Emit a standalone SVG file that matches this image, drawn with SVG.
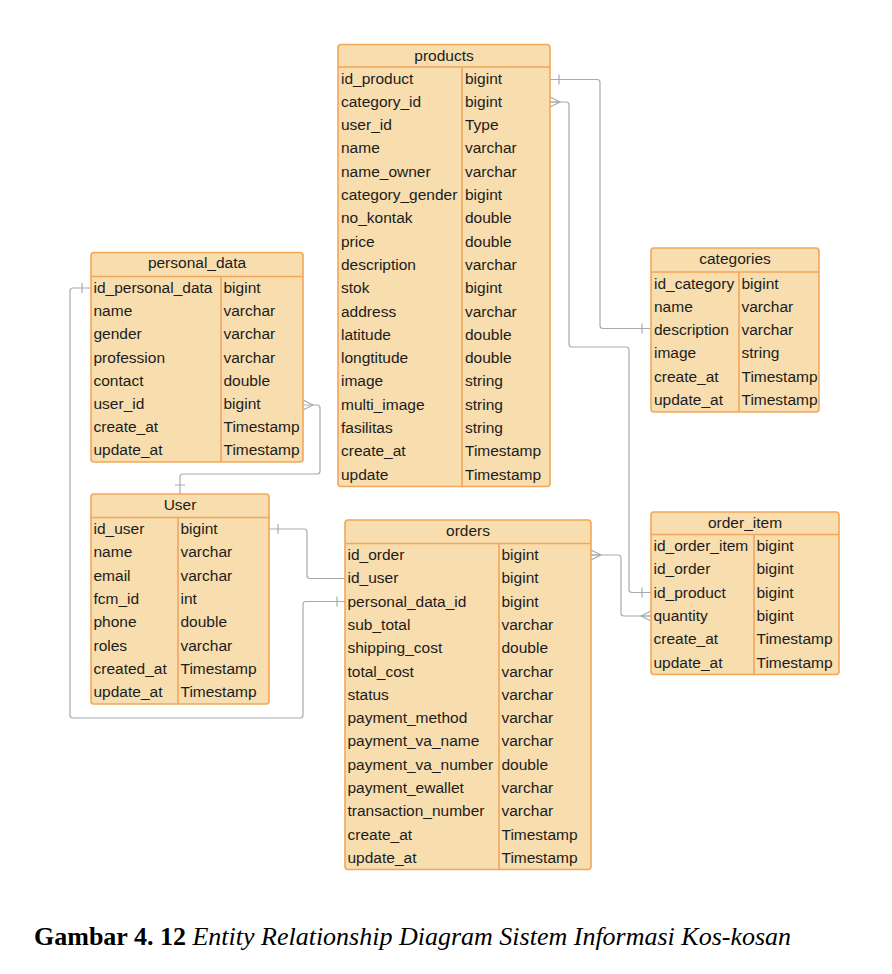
<svg xmlns="http://www.w3.org/2000/svg" width="892" height="974" viewBox="0 0 892 974">
<style>
.box{fill:#f8ddae;stroke:#f2a65c;stroke-width:1.6}
.ln{stroke:#f2a65c;stroke-width:1.6;fill:none}
.t{font-family:"Liberation Sans",Arial,sans-serif;font-size:15.5px;fill:#1c1c1c}
.h{text-anchor:middle}
.c{fill:none;stroke:#a6abb2;stroke-width:1.2;stroke-linejoin:round}
.cap{font-family:"Liberation Serif","Times New Roman",serif;font-size:26px;fill:#000}
</style>
<rect width="892" height="974" fill="#fff"/>
<g id="connectors">
  <path class="c" d="M550,79.5 H597 Q600,79.5 600,82.5 V325.5 Q600,328.5 603,328.5 H651"/>
  <path class="c" d="M559,74.5 V84.5 M642,323.5 V333.5"/>
  <path class="c" d="M550,102 H566 Q569,102 569,105 V344 Q569,347 572,347 H626 Q629,347 629,350 V589.5 Q629,592.5 632,592.5 H651"/>
  <path class="c" d="M550,97 L560,102 L550,107 M550,102 H560 M642,587.5 V597.5"/>
  <path class="c" d="M303,405 H317 Q320,405 320,408 V471 Q320,474 317,474 H183 Q180,474 180,477 V494"/>
  <path class="c" d="M303,400 L313,405 L303,410 M175,485 H185"/>
  <path class="c" d="M91,288 H73 Q70,288 70,291 V715 Q70,718 73,718 H300 Q303,718 303,715 V604.5 Q303,601.5 306,601.5 H345"/>
  <path class="c" d="M82,283 V293 M337,596.5 V606.5"/>
  <path class="c" d="M269,529 H304 Q307,529 307,532 V575.5 Q307,578.5 310,578.5 H345"/>
  <path class="c" d="M278,524 V534"/>
  <path class="c" d="M591,555 H618 Q621,555 621,558 V613 Q621,616 624,616 H651"/>
  <path class="c" d="M591,550 L601,555 L591,560 M591,555 H601 M651,611 L641,616 L651,621 M641,616 H651"/>
</g>
<g id="products">
  <rect class="box" x="338" y="44.5" width="212" height="442" rx="3"/>
  <path class="ln" d="M338,67 H550 M462,67 V486.5"/>
  <text class="t h" x="444" y="60.5">products</text>
  <g class="t">
    <text x="341" y="83.5">id_product</text><text x="465" y="83.5">bigint</text>
    <text x="341" y="106.8">category_id</text><text x="465" y="106.8">bigint</text>
    <text x="341" y="130.1">user_id</text><text x="465" y="130.1">Type</text>
    <text x="341" y="153.4">name</text><text x="465" y="153.4">varchar</text>
    <text x="341" y="176.7">name_owner</text><text x="465" y="176.7">varchar</text>
    <text x="341" y="200">category_gender</text><text x="465" y="200">bigint</text>
    <text x="341" y="223.3">no_kontak</text><text x="465" y="223.3">double</text>
    <text x="341" y="246.6">price</text><text x="465" y="246.6">double</text>
    <text x="341" y="269.9">description</text><text x="465" y="269.9">varchar</text>
    <text x="341" y="293.2">stok</text><text x="465" y="293.2">bigint</text>
    <text x="341" y="316.5">address</text><text x="465" y="316.5">varchar</text>
    <text x="341" y="339.8">latitude</text><text x="465" y="339.8">double</text>
    <text x="341" y="363.1">longtitude</text><text x="465" y="363.1">double</text>
    <text x="341" y="386.4">image</text><text x="465" y="386.4">string</text>
    <text x="341" y="409.7">multi_image</text><text x="465" y="409.7">string</text>
    <text x="341" y="433">fasilitas</text><text x="465" y="433">string</text>
    <text x="341" y="456.3">create_at</text><text x="465" y="456.3">Timestamp</text>
    <text x="341" y="479.6">update</text><text x="465" y="479.6">Timestamp</text>
  </g>
</g>
<g id="categories">
  <rect class="box" x="651" y="248" width="168" height="164" rx="3"/>
  <path class="ln" d="M651,272 H819 M739,272 V412"/>
  <text class="t h" x="735" y="263.5">categories</text>
  <g class="t">
    <text x="654" y="288.5">id_category</text><text x="741.5" y="288.5">bigint</text>
    <text x="654" y="311.8">name</text><text x="741.5" y="311.8">varchar</text>
    <text x="654" y="335.1">description</text><text x="741.5" y="335.1">varchar</text>
    <text x="654" y="358.4">image</text><text x="741.5" y="358.4">string</text>
    <text x="654" y="381.7">create_at</text><text x="741.5" y="381.7">Timestamp</text>
    <text x="654" y="405">update_at</text><text x="741.5" y="405">Timestamp</text>
  </g>
</g>
<g id="personal_data">
  <rect class="box" x="91" y="252.5" width="212" height="209.5" rx="3"/>
  <path class="ln" d="M91,276.5 H303 M221,276.5 V462"/>
  <text class="t h" x="197" y="268">personal_data</text>
  <g class="t">
    <text x="93.5" y="293">id_personal_data</text><text x="223.5" y="293">bigint</text>
    <text x="93.5" y="316.2">name</text><text x="223.5" y="316.2">varchar</text>
    <text x="93.5" y="339.4">gender</text><text x="223.5" y="339.4">varchar</text>
    <text x="93.5" y="362.6">profession</text><text x="223.5" y="362.6">varchar</text>
    <text x="93.5" y="385.8">contact</text><text x="223.5" y="385.8">double</text>
    <text x="93.5" y="409">user_id</text><text x="223.5" y="409">bigint</text>
    <text x="93.5" y="432.2">create_at</text><text x="223.5" y="432.2">Timestamp</text>
    <text x="93.5" y="455.4">update_at</text><text x="223.5" y="455.4">Timestamp</text>
  </g>
</g>
<g id="User">
  <rect class="box" x="91" y="494" width="178" height="210" rx="3"/>
  <path class="ln" d="M91,517.5 H269 M178,517.5 V704"/>
  <text class="t h" x="180" y="509.5">User</text>
  <g class="t">
    <text x="93.5" y="534">id_user</text><text x="180.5" y="534">bigint</text>
    <text x="93.5" y="557.3">name</text><text x="180.5" y="557.3">varchar</text>
    <text x="93.5" y="580.6">email</text><text x="180.5" y="580.6">varchar</text>
    <text x="93.5" y="603.9">fcm_id</text><text x="180.5" y="603.9">int</text>
    <text x="93.5" y="627.2">phone</text><text x="180.5" y="627.2">double</text>
    <text x="93.5" y="650.5">roles</text><text x="180.5" y="650.5">varchar</text>
    <text x="93.5" y="673.8">created_at</text><text x="180.5" y="673.8">Timestamp</text>
    <text x="93.5" y="697.1">update_at</text><text x="180.5" y="697.1">Timestamp</text>
  </g>
</g>
<g id="orders">
  <rect class="box" x="345" y="520" width="246" height="349.5" rx="3"/>
  <path class="ln" d="M345,543.5 H591 M499,543.5 V869.5"/>
  <text class="t h" x="468" y="535.5">orders</text>
  <g class="t">
    <text x="347.5" y="560">id_order</text><text x="501.5" y="560">bigint</text>
    <text x="347.5" y="583.3">id_user</text><text x="501.5" y="583.3">bigint</text>
    <text x="347.5" y="606.6">personal_data_id</text><text x="501.5" y="606.6">bigint</text>
    <text x="347.5" y="629.9">sub_total</text><text x="501.5" y="629.9">varchar</text>
    <text x="347.5" y="653.2">shipping_cost</text><text x="501.5" y="653.2">double</text>
    <text x="347.5" y="676.5">total_cost</text><text x="501.5" y="676.5">varchar</text>
    <text x="347.5" y="699.8">status</text><text x="501.5" y="699.8">varchar</text>
    <text x="347.5" y="723.1">payment_method</text><text x="501.5" y="723.1">varchar</text>
    <text x="347.5" y="746.4">payment_va_name</text><text x="501.5" y="746.4">varchar</text>
    <text x="347.5" y="769.7">payment_va_number</text><text x="501.5" y="769.7">double</text>
    <text x="347.5" y="793">payment_ewallet</text><text x="501.5" y="793">varchar</text>
    <text x="347.5" y="816.3">transaction_number</text><text x="501.5" y="816.3">varchar</text>
    <text x="347.5" y="839.6">create_at</text><text x="501.5" y="839.6">Timestamp</text>
    <text x="347.5" y="862.9">update_at</text><text x="501.5" y="862.9">Timestamp</text>
  </g>
</g>
<g id="order_item">
  <rect class="box" x="651" y="512" width="188" height="162.5" rx="3"/>
  <path class="ln" d="M651,534.5 H839 M754,534.5 V674.5"/>
  <text class="t h" x="745" y="528">order_item</text>
  <g class="t">
    <text x="653.5" y="551">id_order_item</text><text x="756.5" y="551">bigint</text>
    <text x="653.5" y="574.3">id_order</text><text x="756.5" y="574.3">bigint</text>
    <text x="653.5" y="597.6">id_product</text><text x="756.5" y="597.6">bigint</text>
    <text x="653.5" y="620.9">quantity</text><text x="756.5" y="620.9">bigint</text>
    <text x="653.5" y="644.2">create_at</text><text x="756.5" y="644.2">Timestamp</text>
    <text x="653.5" y="667.5">update_at</text><text x="756.5" y="667.5">Timestamp</text>
  </g>
</g>
<text class="cap" x="34" y="945"><tspan font-weight="bold">Gambar 4. 12</tspan><tspan font-style="italic"> Entity Relationship Diagram Sistem Informasi Kos-kosan</tspan></text>
</svg>
